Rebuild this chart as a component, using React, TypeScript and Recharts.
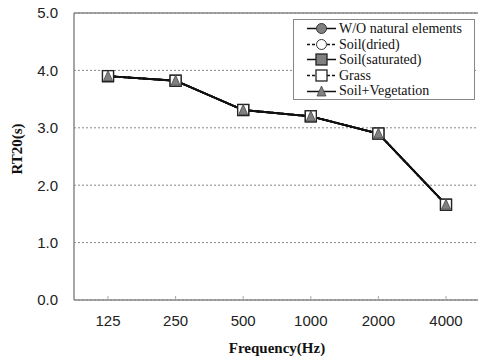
import React from 'react';
import { LineChart, Line, XAxis, YAxis, CartesianGrid, ReferenceLine } from 'recharts';

const frequencies = ['125', '250', '500', '1000', '2000', '4000'];
const woNatural = [3.9, 3.82, 3.31, 3.2, 2.9, 1.66];
const soilDried = [3.9, 3.82, 3.31, 3.2, 2.9, 1.66];
const soilSaturated = [3.9, 3.82, 3.31, 3.2, 2.9, 1.66];
const grass = [3.9, 3.82, 3.31, 3.2, 2.9, 1.66];
const soilVegetation = [3.9, 3.82, 3.31, 3.2, 2.9, 1.66];
const seriesNames = ['W/O natural elements', 'Soil(dried)', 'Soil(saturated)', 'Grass', 'Soil+Vegetation'];
const yTicks = [0, 1, 2, 3, 4, 5];

const data = frequencies.map((f, i) => ({
  freq: f,
  s0: woNatural[i],
  s1: soilDried[i],
  s2: soilSaturated[i],
  s3: grass[i],
  s4: soilVegetation[i],
}));

type Kind = 'circle' | 'square' | 'triangle';
const series: { key: string; kind: Kind; fill: string; dash?: string }[] = [
  { key: 's0', kind: 'circle', fill: '#808080' },
  { key: 's1', kind: 'circle', fill: '#ffffff', dash: '3 2' },
  { key: 's2', kind: 'square', fill: '#808080' },
  { key: 's3', kind: 'square', fill: '#ffffff', dash: '3 2' },
  { key: 's4', kind: 'triangle', fill: '#808080' },
];

function MarkerShape({ cx, cy, kind, fill }: { cx: number; cy: number; kind: Kind; fill: string }) {
  if (cx == null || cy == null) return null;
  if (kind === 'circle') return <circle cx={cx} cy={cy} r={5} fill={fill} stroke="#333" strokeWidth={1} />;
  if (kind === 'square')
    return <rect x={cx - 5.5} y={cy - 5.5} width={11} height={11} fill={fill} stroke="#222" strokeWidth={1.3} />;
  return (
    <polygon
      points={`${cx},${cy - 5.5} ${cx - 4.5},${cy + 4.5} ${cx + 4.5},${cy + 4.5}`}
      fill={fill}
      stroke="#444"
      strokeWidth={0.8}
    />
  );
}

const serif = "'Liberation Serif', 'Times New Roman', serif";
const sans = "'Liberation Sans', Arial, sans-serif";

function LegendBox() {
  return (
    <div
      style={{
        position: 'absolute',
        left: 293,
        top: 19,
        border: '1px solid #888',
        background: '#fff',
        width: 182,
        height: 81,
        boxSizing: 'border-box',
        padding: '1px 0 0 12px',
        fontFamily: serif,
        fontSize: 14,
        color: '#111',
      }}
    >
      {series.map((s, i) => (
        <div key={s.key} style={{ display: 'flex', alignItems: 'center', height: 15.6, lineHeight: '15.6px' }}>
          <svg width={32} height={15} style={{ flex: 'none' }}>
            <line x1={1} y1={7.5} x2={30} y2={7.5} stroke="#111" strokeWidth={1.5} strokeDasharray={s.dash} />
            <MarkerShape cx={15.5} cy={7.5} kind={s.kind} fill={s.fill} />
          </svg>
          <span style={{ marginLeft: 1, whiteSpace: 'nowrap', fontFamily: serif }}>{seriesNames[i]}</span>
        </div>
      ))}
    </div>
  );
}

export default function App() {
  return (
    <div style={{ position: 'absolute', left: 0, top: 0, width: 478, height: 356, background: '#fff', overflow: 'hidden' }}>
      <LineChart width={480} height={356} data={data} margin={{ top: 13, right: 0, left: 0, bottom: 0 }}>
        <CartesianGrid vertical={false} stroke="#888" strokeDasharray="2 2" />
        <XAxis
          dataKey="freq"
          height={56}
          padding={{ left: 34, right: 34 }}
          axisLine={{ stroke: '#888', strokeWidth: 1.5 }}
          tickLine={{ stroke: '#aaa' }}
          tickSize={-4}
          tickMargin={19}
          tick={{ fontFamily: sans, fontSize: 15, fill: '#222' }}
          label={{
            value: 'Frequency(Hz)',
            position: 'insideBottom',
            offset: 3,
            style: { fontFamily: serif, fontWeight: 'bold', fontSize: 15, fill: '#111' },
          }}
        />
        <YAxis
          domain={[0, 5]}
          ticks={yTicks}
          width={74}
          axisLine={{ stroke: '#888', strokeWidth: 1.5 }}
          tickLine={false}
          tickSize={0}
          tickMargin={16}
          tickFormatter={(v: number) => v.toFixed(1)}
          tick={{ fontFamily: sans, fontSize: 15, fill: '#222' }}
          label={{
            value: 'RT20(s)',
            content: (props: any) => (
              <text
                x={22}
                y={149}
                transform="rotate(-90, 22, 149)"
                textAnchor="middle"
                style={{ fontFamily: serif, fontWeight: 'bold', fontSize: 15, fill: '#111' }}
              >
                {props.value}
              </text>
            ),
          }}
        />
        <ReferenceLine y={5} stroke="#888" strokeWidth={1.5} />
        {series.map((s, i) => (
          <Line
            key={s.key}
            dataKey={s.key}
            name={seriesNames[i]}
            stroke="#111"
            strokeWidth={1.8}
            strokeDasharray={s.dash}
            isAnimationActive={false}
            dot={(p: any) => <MarkerShape key={`${s.key}-${p.index}`} cx={p.cx} cy={p.cy} kind={s.kind} fill={s.fill} />}
            activeDot={false}
          />
        ))}
      </LineChart>
      <LegendBox />
    </div>
  );
}
